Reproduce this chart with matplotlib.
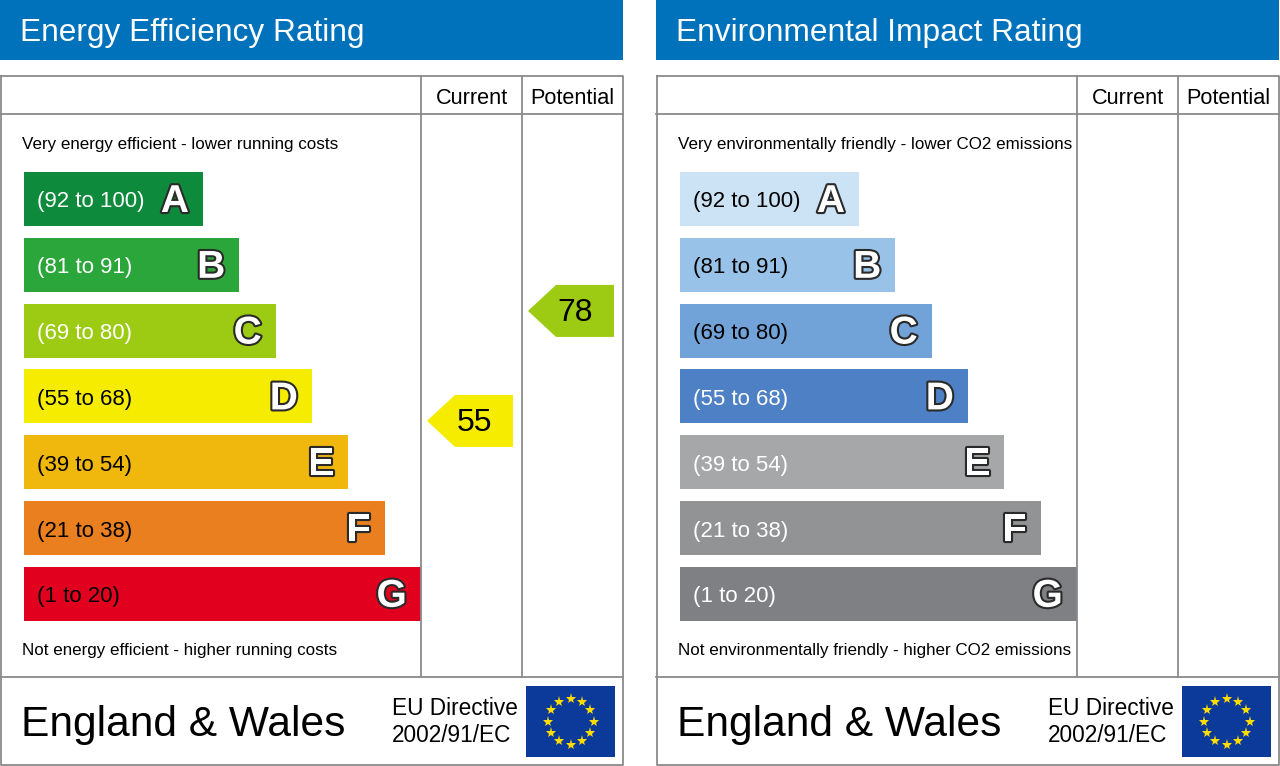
import numpy as np
import matplotlib
matplotlib.use('Agg')
import matplotlib.pyplot as plt
from matplotlib.patches import Rectangle, Polygon
import matplotlib.patheffects as pe

plt.rcParams['font.family'] = ['Liberation Sans', 'DejaVu Sans']

# ---- data ----
band_letters = ['A', 'B', 'C', 'D', 'E', 'F', 'G']
band_ranges = ['(92 to 100)', '(81 to 91)', '(69 to 80)', '(55 to 68)',
               '(39 to 54)', '(21 to 38)', '(1 to 20)']
band_low = [92, 81, 69, 55, 39, 21, 1]
band_high = [100, 91, 80, 68, 54, 38, 20]

ee_title = 'Energy Efficiency Rating'
ee_top_text = 'Very energy efficient - lower running costs'
ee_bottom_text = 'Not energy efficient - higher running costs'
ee_colors = ['#0e8a3c', '#2ba63a', '#9dcb14', '#f6ec00', '#f0b70c', '#e97f1e', '#e2001f']
ee_text_colors = ['white', 'white', 'white', 'black', 'black', 'black', 'black']
ee_current = 55
ee_potential = 78

ei_title = 'Environmental Impact Rating'
ei_top_text = 'Very environmentally friendly - lower CO2 emissions'
ei_bottom_text = 'Not environmentally friendly - higher CO2 emissions'
ei_colors = ['#cce2f5', '#98c2e7', '#72a3d8', '#4d80c4', '#a6a7a9', '#929395', '#7f8083']
ei_text_colors = ['black', 'black', 'black', 'white', 'white', 'white', 'white']
ei_current = None
ei_potential = None

footer_text = 'England & Wales'
directive_text = 'EU Directive\n2002/91/EC'

BLUE = '#0071bb'
LINE = '#8a8a8a'

fig = plt.figure(figsize=(12.8, 7.66), dpi=100)
ax = fig.add_axes([0, 0, 1, 1])
ax.set_xlim(0, 1280)
ax.set_ylim(766, 0)
ax.axis('off')


def band_color_for(value, colors):
    for i in range(len(band_low)):
        if band_low[i] <= value <= band_high[i]:
            return i, colors[i]
    return len(colors) - 1, colors[-1]


def draw_arrow(x_left, x_right, value, colors, bar_top0, pitch, bar_h):
    idx, col = band_color_for(value, colors)
    frac = (value - band_low[idx]) / (band_high[idx] - band_low[idx])
    bottom = bar_top0 + idx * pitch + bar_h
    yc = bottom - frac * bar_h - 2.5
    h = 52
    tip = x_left + 6
    body = x_left + 34
    right = x_right - 9
    pts = [(tip, yc), (body, yc - h / 2), (right, yc - h / 2),
           (right, yc + h / 2), (body, yc + h / 2)]
    ax.add_patch(Polygon(pts, closed=True, facecolor=col, edgecolor='none'))
    ax.text((tip + right) / 2 + 4, yc + 2, str(value), fontsize=23,
            ha='center', va='center', color='black')


def draw_flag(x0, y0, w, h):
    ax.add_patch(Rectangle((x0, y0), w, h, facecolor='#0b3a9b', edgecolor='none'))
    cx, cy = x0 + w / 2, y0 + h / 2
    ang = np.linspace(0, 2 * np.pi, 12, endpoint=False)
    ax.plot(cx + 23 * np.cos(ang), cy + 23 * np.sin(ang), linestyle='none',
            marker='*', markersize=8, color='#ffdd00', markeredgewidth=0)


def draw_panel(x0, title, top_text, bottom_text, colors, text_colors,
               current, potential):
    w = 623
    # header bar
    ax.add_patch(Rectangle((x0, 0), w, 60, facecolor=BLUE, edgecolor='none'))
    ax.text(x0 + 20, 33, title, fontsize=22.8, color='white', va='center', ha='left')

    col1 = x0 + 421
    col2 = x0 + 522
    right = x0 + w
    top, hdr, foot, bot = 76, 114, 677, 765
    lw = 1.3
    ax.plot([x0 + 0.5, right, right, x0 + 0.5, x0 + 0.5],
            [top, top, bot, bot, top], color=LINE, lw=lw)
    ax.plot([x0, right], [hdr, hdr], color=LINE, lw=lw)
    ax.plot([x0, right], [foot, foot], color=LINE, lw=lw)
    ax.plot([col1, col1], [top, foot], color=LINE, lw=lw)
    ax.plot([col2, col2], [top, foot], color=LINE, lw=lw)

    ax.text((col1 + col2) / 2, 99, 'Current', fontsize=15.6, ha='center', va='center')
    ax.text((col2 + right) / 2, 99, 'Potential', fontsize=15.6, ha='center', va='center')

    ax.text(x0 + 22, 145, top_text, fontsize=12.25, ha='left', va='center')
    ax.text(x0 + 22, 651, bottom_text, fontsize=12.25, ha='left', va='center')

    bar_x = x0 + 24
    bar_top0 = 172
    pitch = 65.8
    bar_h = 54
    widths = [179 + 36.3 * i for i in range(len(band_letters))]
    for i, letter in enumerate(band_letters):
        y = bar_top0 + i * pitch
        ax.add_patch(Rectangle((bar_x, y), widths[i], bar_h,
                               facecolor=colors[i], edgecolor='none'))
        ax.text(bar_x + 13, y + bar_h / 2 + 3, band_ranges[i], fontsize=16,
                ha='left', va='center', color=text_colors[i])
        t = ax.text(bar_x + widths[i] - 14, y + bar_h / 2 + 3, letter,
                    fontsize=28, fontweight='bold', ha='right', va='center',
                    color='white')
        t.set_path_effects([pe.withStroke(linewidth=3, foreground='#2a2a2a')])

    if current is not None:
        draw_arrow(col1, col2, current, colors, bar_top0, pitch, bar_h)
    if potential is not None:
        draw_arrow(col2, right, potential, colors, bar_top0, pitch, bar_h)

    ax.text(x0 + 21, 725, footer_text, fontsize=30.6, ha='left', va='center')
    ax.text(x0 + 392, 722, directive_text, fontsize=16.3, ha='left',
            va='center', linespacing=1.2, multialignment='left')
    draw_flag(x0 + 526, 686, 89, 71)


draw_panel(0, ee_title, ee_top_text, ee_bottom_text, ee_colors, ee_text_colors,
           ee_current, ee_potential)
draw_panel(656, ei_title, ei_top_text, ei_bottom_text, ei_colors, ei_text_colors,
           ei_current, ei_potential)

fig.savefig('out.png', dpi=100, facecolor='white')
